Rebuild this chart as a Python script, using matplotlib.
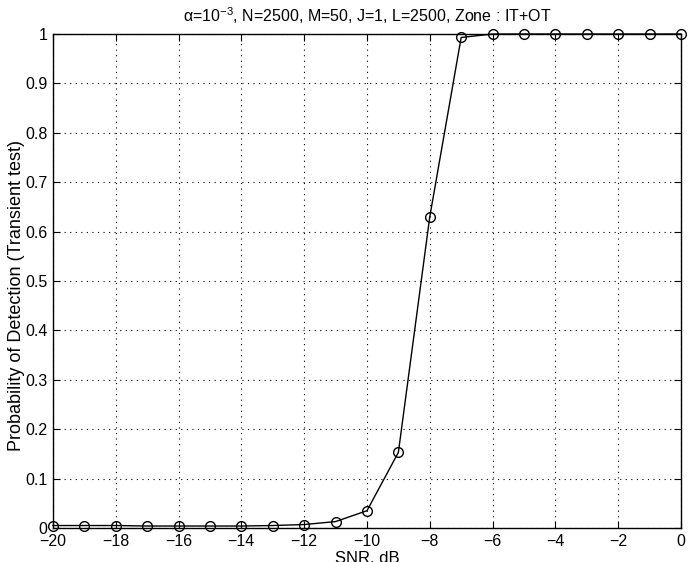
import matplotlib
matplotlib.use("Agg")
import matplotlib.pyplot as plt

plt.rcParams['font.family'] = ['Liberation Sans', 'DejaVu Sans']
plt.rcParams['mathtext.fontset'] = 'custom'
plt.rcParams['mathtext.rm'] = 'Liberation Sans'
plt.rcParams['mathtext.it'] = 'Liberation Sans:italic'

snr_db = [-20, -19, -18, -17, -16, -15, -14, -13, -12, -11, -10, -9, -8, -7, -6, -5, -4, -3, -2, -1, 0]
pd_values = [0.005, 0.005, 0.005, 0.004, 0.004, 0.004, 0.004, 0.005, 0.007, 0.013, 0.035, 0.153,
             0.63, 0.993, 1.0, 1.0, 1.0, 1.0, 1.0, 1.0, 1.0]
xticks = [-20, -18, -16, -14, -12, -10, -8, -6, -4, -2, 0]
yticks = [0, 0.1, 0.2, 0.3, 0.4, 0.5, 0.6, 0.7, 0.8, 0.9, 1]
ytick_labels = ['0', '0.1', '0.2', '0.3', '0.4', '0.5', '0.6', '0.7', '0.8', '0.9', '1']
title = 'α=10$^{-3}$, N=2500, M=50, J=1, L=2500, Zone : IT+OT'

fig = plt.figure(figsize=(6.97, 5.62), dpi=100)
ax = fig.add_axes([0.076, 0.0605, 0.901, 0.879])
ax.plot(snr_db, pd_values, color='black', linewidth=1.0, marker='o', markersize=7,
        markerfacecolor='none', markeredgecolor='black', markeredgewidth=1.0, clip_on=False, zorder=3)
ax.set_xlim(-20, 0)
ax.set_ylim(0, 1)
ax.set_xticks(xticks)
ax.set_xticklabels([str(t).replace('-', '\u2212') for t in xticks])
ax.set_yticks(yticks)
ax.set_yticklabels(ytick_labels)
ax.grid(True, linestyle=(0, (1, 4)), color='black', linewidth=0.8)
ax.tick_params(direction='in', length=5, labelsize=11.5, top=True, right=True, pad=4)
for s in ax.spines.values():
    s.set_linewidth(1.0)
ax.set_xlabel('SNR, dB', fontsize=12, labelpad=2)
ax.set_ylabel('Probability of Detection (Transient test)', fontsize=13)
ax.yaxis.set_label_coords(-0.045, 0.47)
ax.set_title(title, fontsize=11.5, pad=9)
fig.savefig('out.png', dpi=100)
